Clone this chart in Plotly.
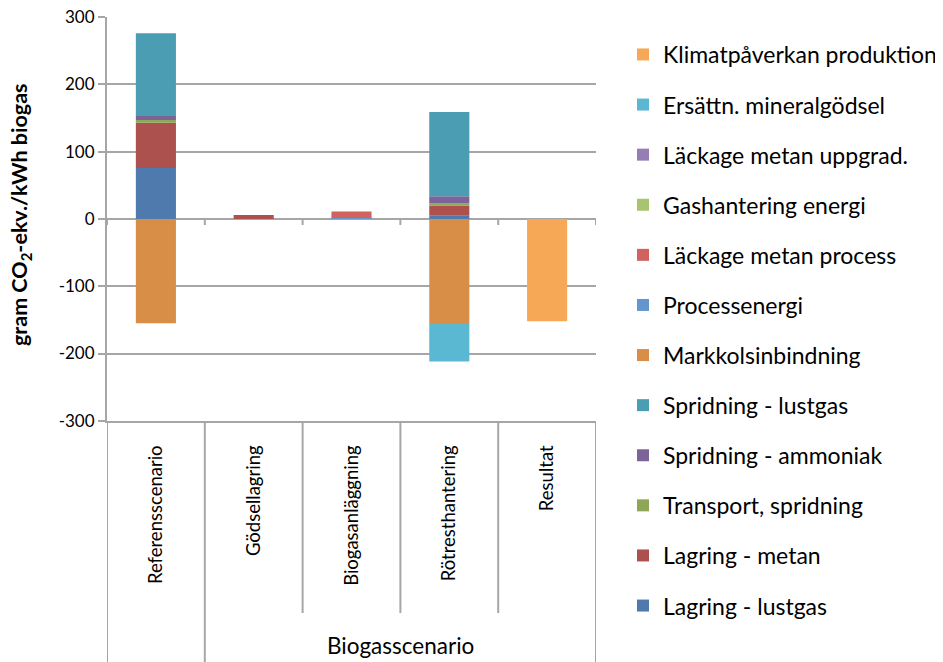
import plotly.graph_objects as go

# ---------------------------------------------------------------------------
# Data (gram CO2-ekv./kWh biogas)
# ---------------------------------------------------------------------------

categories = ['Referensscenario', 'Gödsellagring', 'Biogasanläggning',
              'Rötresthantering', 'Resultat']

lagring_lustgas = [76, 0, 0, 5, 0]
lagring_metan = [67, 6, 0, 15, 0]
transport_spridning = [4, 0, 0, 3, 0]
spridning_ammoniak = [6, 0, 0, 11, 0]
spridning_lustgas = [123, 0, 0, 125, 0]
markkolsinbindning = [-155, 0, 0, -156, 0]
processenergi = [0, 0, 2, 0, 0]
lackage_metan_process = [0, 0, 9, 0, 0]
gashantering_energi = [0, 0, 0, 0, 0]
lackage_metan_uppgrad = [0, 0, 0, 0, 0]
ersattn_mineralgodsel = [0, 0, 0, -56, 0]
klimatpaverkan_produktion = [0, 0, 0, 0, -152]

y_ticks = [-300, -200, -100, 0, 100, 200, 300]
y_tick_labels = [str(v) for v in y_ticks]  # plain hyphen, as in the original

series = [
    ('Lagring - lustgas', lagring_lustgas, '#4F7AAE'),
    ('Lagring - metan', lagring_metan, '#AD514E'),
    ('Transport, spridning', transport_spridning, '#8FA656'),
    ('Spridning - ammoniak', spridning_ammoniak, '#7D6498'),
    ('Spridning - lustgas', spridning_lustgas, '#4A9DB3'),
    ('Markkolsinbindning', markkolsinbindning, '#D88E47'),
    ('Processenergi', processenergi, '#6395CE'),
    ('Läckage metan process', lackage_metan_process, '#D1625D'),
    ('Gashantering energi', gashantering_energi, '#A9C46E'),
    ('Läckage metan uppgrad.', lackage_metan_uppgrad, '#967DB6'),
    ('Ersättn. mineralgödsel', ersattn_mineralgodsel, '#5BB8D3'),
    ('Klimatpåverkan produktion', klimatpaverkan_produktion, '#F7A857'),
]

group_label = 'Biogasscenario'
y_title = 'gram CO<sub>2</sub>-ekv./kWh biogas'

GRID = '#A6A6A6'
FONT = 'Lato, "Open Sans", sans-serif'

fig = go.Figure()
n = len(series)
for i, (name, vals, color) in enumerate(series):
    fig.add_trace(go.Bar(
        x=categories, y=vals, name=name, legendgroup=name,
        legendrank=n - i,
        marker=dict(color=color, line=dict(width=0)),
        width=0.41,
    ))

# the page body has an 8px margin, so the figure is laid out 8px smaller
OFF = 8
FIG_W, FIG_H = 943 - OFF, 662 - OFF
# plot area in screen pixels: left 107, right 596, top 17, bottom 421
L, R, T, B = 107 - OFF, 596 - OFF, 17 - OFF, 421 - OFF
W_PLOT, H_PLOT = R - L, B - T

shapes = []
# small ticks on the zero category axis
for k in range(len(categories) + 1):
    shapes.append(dict(type='line', xref='x', yref='y', x0=k - 0.5, x1=k - 0.5,
                       y0=0, y1=-9, line=dict(color=GRID, width=2)))
# separators below the plot (multi-level category axis)
for k in range(len(categories) + 1):
    xpos = k - 0.5
    long_line = k in (0, 1, len(categories))
    y_end = -(FIG_H - B) / H_PLOT if long_line else -(613 - OFF - B) / H_PLOT
    shapes.append(dict(type='line', xref='x', yref='paper', x0=xpos, x1=xpos,
                       y0=0, y1=y_end, line=dict(color=GRID, width=2)))

fig.update_layout(
    width=FIG_W, height=FIG_H,
    margin=dict(l=L, r=FIG_W - R, t=T, b=FIG_H - B, autoexpand=False),
    plot_bgcolor='white', paper_bgcolor='white',
    barmode='relative',
    font=dict(family=FONT, size=17, color='black'),
    showlegend=True,
    legend=dict(
        x=(623 - OFF - L) / W_PLOT, xanchor='left',
        y=(B - (33 - OFF)) / H_PLOT, yanchor='top',
        traceorder='grouped', tracegroupgap=17.2,
        font=dict(family=FONT, size=23, color='black'),
        itemwidth=30, maxheight=660,
    ),
    shapes=shapes,
    annotations=[
        dict(text=group_label, xref='x', yref='paper', x=2.5,
             y=-(645 - OFF - B) / H_PLOT,
             showarrow=False, xanchor='center', yanchor='middle',
             font=dict(family=FONT, size=22.5, color='black')),
        dict(text=y_title, xref='paper', yref='paper', x=(20 - OFF - L) / W_PLOT,
             y=(B - (215 - OFF)) / H_PLOT,
             textangle=-90, showarrow=False, xanchor='center', yanchor='middle',
             font=dict(family=FONT, size=21.5, color='black', weight='bold')),
    ],
)

fig.update_yaxes(
    range=[-300.3, 300.3], tickvals=y_ticks, ticktext=y_tick_labels,
    showgrid=True, gridcolor=GRID, gridwidth=2,
    zeroline=True, zerolinecolor=GRID, zerolinewidth=2,
    showline=True, linecolor=GRID, linewidth=2,
    ticks='outside', ticklen=7, tickcolor=GRID, tickwidth=2,
    tickfont=dict(size=17), ticklabeloverflow='allow',
)
fig.update_xaxes(
    type='category', categoryorder='array', categoryarray=categories,
    range=[-0.5, len(categories) - 0.5],
    showline=True, linecolor=GRID, linewidth=2,
    ticks='', tickangle=-90, ticklabelstandoff=15,
    tickfont=dict(size=18.5),
    showgrid=False,
)

fig.write_html("out.html")
